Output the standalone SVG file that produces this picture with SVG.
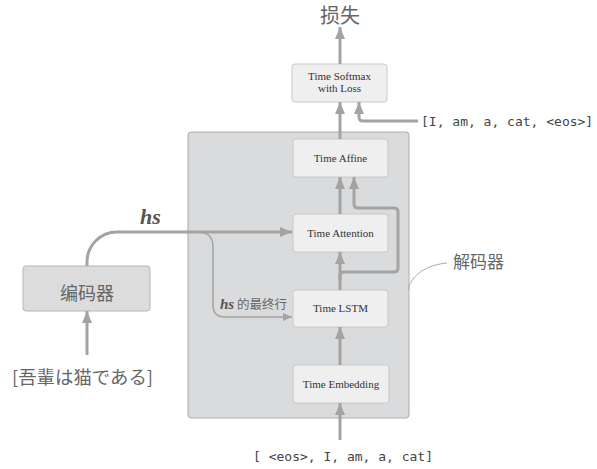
<svg xmlns="http://www.w3.org/2000/svg" width="597" height="469" viewBox="0 0 597 469">
<defs>
<marker id="arr" markerUnits="userSpaceOnUse" markerWidth="12" markerHeight="10" refX="12" refY="5" orient="auto"><path d="M0,0 L12,5 L0,10 z" fill="#a3a3a3"/></marker>
<marker id="arrs" markerUnits="userSpaceOnUse" markerWidth="9" markerHeight="8" refX="9" refY="4" orient="auto"><path d="M0,0 L9,4 L0,8 z" fill="#a3a3a3"/></marker>
<style>
.node{fill:#efefef;stroke:#c8c8c8;stroke-width:1}
.lbl{font-family:"Liberation Serif",serif;font-size:11px;fill:#333;text-anchor:middle}
.cjk{font-family:"Noto Sans CJK SC","Noto Sans CJK JP",sans-serif;fill:#666}
.mono{font-family:"DejaVu Sans Mono","Liberation Mono",monospace;fill:#444;font-size:13px}
.c{fill:none;stroke:#a3a3a3;stroke-width:3}
.t{fill:none;stroke:#a3a3a3;stroke-width:1.5}
</style>
</defs>
<g id="decoder">
<rect x="188" y="132" width="221" height="286" rx="3" fill="#dadbdd" stroke="#acacac" stroke-width="1"/>
<text class="cjk" x="453" y="268" font-size="17">解码器</text>
<path d="M447,263 C425,265 411,276 408,290" fill="none" stroke="#aaa" stroke-width="1"/>
</g>
<g id="encoder">
<rect x="23" y="266" width="127" height="45" rx="3" fill="#dcdcdc" stroke="#b5b5b5" stroke-width="1"/>
<text class="cjk" x="87" y="300" font-size="18" text-anchor="middle">编码器</text>
</g>
<g id="softmax">
<rect class="node" x="292" y="64" width="95" height="38" rx="3"/>
<text class="lbl" x="339.5" y="80">Time Softmax</text>
<text class="lbl" x="339.5" y="92">with Loss</text>
</g>
<g id="affine">
<rect class="node" x="293" y="139" width="95" height="38" rx="3"/>
<text class="lbl" x="340.5" y="161.5">Time Affine</text>
</g>
<g id="attention">
<rect class="node" x="293" y="214" width="95" height="38" rx="3"/>
<text class="lbl" x="340.5" y="236.5">Time Attention</text>
</g>
<g id="lstm">
<rect class="node" x="293" y="290" width="95" height="37" rx="3"/>
<text class="lbl" x="340.5" y="312">Time LSTM</text>
</g>
<g id="embedding">
<rect class="node" x="293" y="365" width="96" height="38" rx="3"/>
<text class="lbl" x="341" y="387.5">Time Embedding</text>
</g>
<g id="labels">
<text class="cjk" x="340" y="23" font-size="20" text-anchor="middle" fill="#777">损失</text>
<text class="mono" x="421" y="126">[I, am, a, cat, &lt;eos&gt;]</text>
<text class="mono" x="253" y="461">[ &lt;eos&gt;, I, am, a, cat]</text>
<text class="cjk" x="12" y="384" font-size="18" textLength="141" lengthAdjust="spacingAndGlyphs" font-family="Noto Sans CJK JP,sans-serif">[吾輩は猫である]</text>
<text x="140" y="224" font-family="Liberation Serif,serif" font-style="italic" font-weight="bold" font-size="22" fill="#555">hs</text>
<text x="220" y="309" font-family="Liberation Serif,serif" font-style="italic" font-weight="bold" font-size="15" fill="#555">hs</text>
<text class="cjk" x="237" y="309" font-size="12.5">的最终行</text>
</g>
<g id="connectors">
<line class="c" x1="340" y1="440" x2="340" y2="403" marker-end="url(#arr)"/>
<line class="c" x1="340" y1="365" x2="340" y2="327" marker-end="url(#arr)"/>
<line class="c" x1="340" y1="290" x2="340" y2="252" marker-end="url(#arr)"/>
<line class="c" x1="340" y1="214" x2="340" y2="177" marker-end="url(#arr)"/>
<line class="c" x1="340" y1="139" x2="340" y2="102" marker-end="url(#arr)"/>
<line class="c" x1="340" y1="64" x2="340" y2="27" marker-end="url(#arr)"/>
<path class="c" d="M340,280 V276 Q340,272 344,272 H394 Q398,272 398,268 V212 Q398,208 394,208 H358 Q354,208 354,204 V177" marker-end="url(#arr)"/>
<path class="c" d="M418,121 H363 Q359,121 359,117 V102" marker-end="url(#arr)"/>
<line class="c" x1="87" y1="355" x2="87" y2="311" marker-end="url(#arr)"/>
<path class="c" d="M87,266 V262 A30,30 0 0 1 117,232 H292" marker-end="url(#arr)"/>
<path class="t" d="M198,232 Q213,232 213,247 V305 Q213,317 225,317 H292" marker-end="url(#arrs)"/>
</g>
</svg>
